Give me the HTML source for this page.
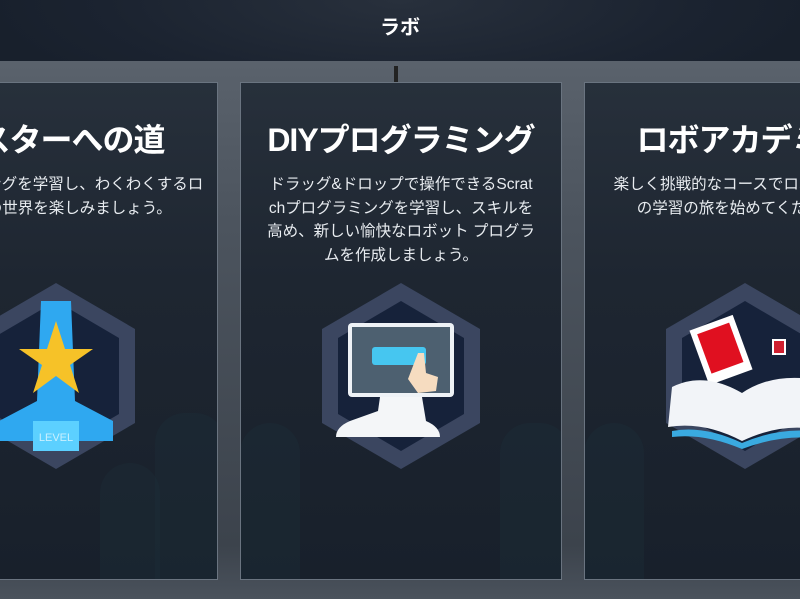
<!DOCTYPE html>
<html><head><meta charset="utf-8"><style>
*{margin:0;padding:0;box-sizing:border-box}
html,body{width:800px;height:599px;overflow:hidden}
body{background:#4a525c;font-family:"Liberation Sans","Noto Sans CJK JP",sans-serif;position:relative}
.hdr{position:absolute;left:0;top:0;width:800px;height:61px;background:radial-gradient(ellipse 420px 120px at 400px 0,#28303c,#1b2330 70%,#18202c);color:#fff;text-align:center;font-size:20px;font-weight:bold;line-height:56px}
.bg{position:absolute;left:0;top:61px;width:800px;height:538px;background:linear-gradient(#5a626c,#4c545e 30%,#3c434c 90%,#4a525c)}
.card{position:absolute;top:82px;height:498px;border:1px solid #6a7480;background:linear-gradient(#27303b,#1e2631 40%,#18202b);overflow:hidden}
.in{position:absolute;top:0;width:322px;height:498px}
.in h2{position:absolute;top:36px;left:-20px;width:362px;text-align:center;color:#fff;font-size:32px;font-weight:bold;letter-spacing:-1px;line-height:42px;white-space:nowrap}
.in p{position:absolute;top:90px;left:-20px;width:362px;text-align:center;color:#e8ecf0;font-size:15.5px;line-height:23.5px;white-space:nowrap}
.hex{position:absolute;top:198px;left:80px}
.tower{position:absolute;background:rgba(30,50,60,0.3);border-radius:30px 30px 0 0}
</style></head><body>
<div class="hdr">ラボ</div>
<div class="bg"></div>
<div style="position:absolute;left:394px;top:66px;width:4px;height:18px;background:#222"></div>

<div class="card" style="left:-2px;width:220px"><div class="in" style="left:-104px">
<h2>マスターへの道</h2>
<p>プログラミングを学習し、わくわくするロ<br>ボットの世界を楽しみましょう。</p>
<div class="tower" style="left:260px;top:330px;width:70px;height:170px"></div>
<div class="tower" style="left:205px;top:380px;width:60px;height:120px"></div>
<svg class="hex" width="162" height="190" viewBox="0 0 162 190">
<polygon points="81,2 160,48 160,142 81,188 2,142 2,48" fill="#3b4660"/>
<polygon points="81,20 144,57 144,133 81,170 18,133 18,57" fill="#16223a"/>
<path d="M66,20 L96,20 L100,120 L138,140 L138,160 L24,160 L24,140 L62,120Z" fill="#2fa8f0"/>
<rect x="58" y="140" width="46" height="30" fill="#5cd0ff"/>
<text x="81" y="160" fill="#c8f0ff" font-size="11" text-anchor="middle" font-family="Liberation Sans">LEVEL</text>
<polygon points="81,40 90,68 118,68 95,84 104,112 81,95 58,112 67,84 44,68 72,68" fill="#f6c228"/>
</svg>
</div></div>

<div class="card" style="left:240px;width:322px"><div class="in" style="left:-1px">
<h2>DIYプログラミング</h2>
<p>ドラッグ&amp;ドロップで操作できるScrat<br>chプログラミングを学習し、スキルを<br>高め、新しい愉快なロボット プログラ<br>ムを作成しましょう。</p>
<div class="tower" style="left:0px;top:340px;width:60px;height:160px"></div>
<div class="tower" style="left:260px;top:340px;width:70px;height:160px"></div>
<svg class="hex" width="162" height="190" viewBox="0 0 162 190">
<polygon points="81,2 160,48 160,142 81,188 2,142 2,48" fill="#3b4660"/>
<polygon points="81,20 144,57 144,133 81,170 18,133 18,57" fill="#16223a"/>
<rect x="28" y="42" width="106" height="74" rx="4" fill="#eef2f6"/>
<rect x="32" y="46" width="98" height="66" fill="#4d6070"/>
<rect x="52" y="66" width="54" height="18" rx="3" fill="#46c6f0"/>
<path d="M60,116 L102,116 L106,140 Q120,146 120,156 L16,156 Q16,146 30,140 L58,130Z" fill="#f4f6f8"/>
<path d="M98,72 L104,72 L106,92 L118,96 L116,110 L98,112 L88,98Z" fill="#f6dcc0"/>
</svg>
</div></div>

<div class="card" style="left:584px;width:218px"><div class="in" style="left:-1px">
<h2>ロボアカデミー</h2>
<p>楽しく挑戦的なコースでロボット工学<br>の学習の旅を始めてください。</p>
<div class="tower" style="left:0px;top:340px;width:60px;height:160px"></div>
<svg class="hex" width="162" height="190" viewBox="0 0 162 190">
<polygon points="81,2 160,48 160,142 81,188 2,142 2,48" fill="#3b4660"/>
<polygon points="81,20 144,57 144,133 81,170 18,133 18,57" fill="#16223a"/>
<rect x="34" y="40" width="46" height="58" fill="#fff" transform="rotate(-20 57 69)"/>
<rect x="40" y="46" width="34" height="42" fill="#e01020" transform="rotate(-20 57 69)"/>
<rect x="108" y="58" width="14" height="16" fill="#fff"/>
<rect x="110" y="60" width="10" height="12" fill="#d02030"/>
<path d="M8,106 Q40,90 78,112 Q110,90 160,100 L160,150 Q120,140 78,160 Q40,140 4,146Z" fill="#f2f4f8"/>
<path d="M8,150 Q40,144 78,162 Q120,144 160,152 L160,158 Q120,152 78,168 Q40,152 8,156Z" fill="#3aaae0"/>
</svg>
</div></div>
</body></html>
